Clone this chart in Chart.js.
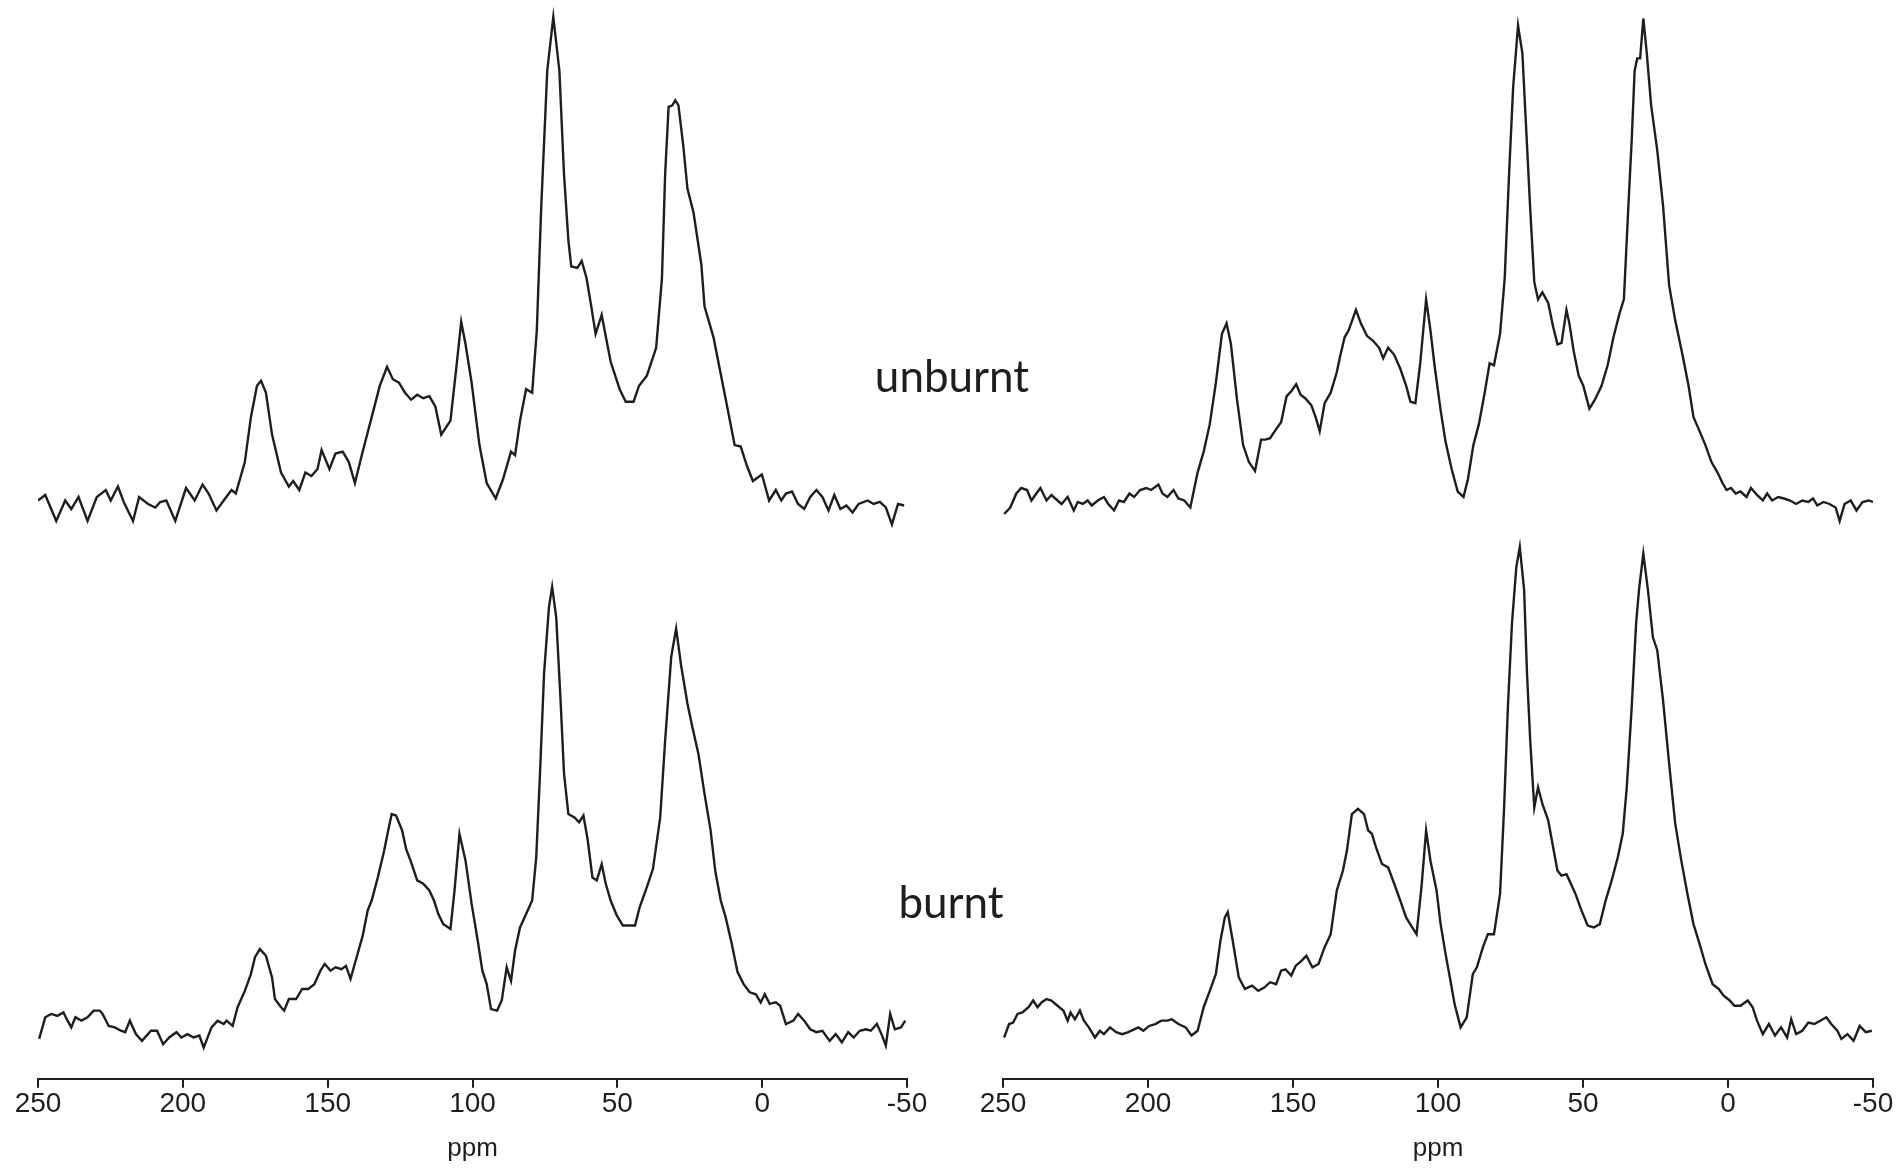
<!DOCTYPE html>
<html>
<head>
<meta charset="utf-8">
<title>13C NMR spectra - unburnt and burnt</title>
<script src="https://cdn.jsdelivr.net/npm/chart.js@4.4.1/dist/chart.umd.min.js"></script>
<style>
  html, body { margin: 0; padding: 0; background: #fff; }
  #wrap { position: relative; width: 1898px; height: 1169px; overflow: hidden; }
  canvas { position: absolute; top: 0; }
  #left { left: 0; }
  #right { left: 950px; }
  .tag {
    position: absolute;
    font-family: Lato, 'Open Sans', sans-serif;
    font-size: 44px;
    line-height: 1;
    color: #1e1e1e;
    transform: translateX(-50%);
    white-space: nowrap;
  }
</style>
</head>
<body>
<div id="wrap">
  <canvas id="left" width="950" height="1169"></canvas>
  <canvas id="right" width="948" height="1169"></canvas>
  <div class="tag" style="left:952px; top:353px;">unburnt</div>
  <div class="tag" style="left:951px; top:879px;">burnt</div>
</div>
<script>
// tick labels on the ppm axis
const ppmTicks = [250, 200, 150, 100, 50, 0, -50];

// left panel, unburnt (chemical shift in ppm, relative intensity)
const leftUnburntPpm = [250,247.5,243.7,240.6,238.5,236,232.9,229.7,226.6,224.9,
  222.4,220.4,217.2,215.1,212,209.5,207.8,205.7,202.6,198.9,
  195.9,193.2,191.1,188.4,185.9,183.2,181.7,178.6,176.5,174.4,
  173,171.3,169.2,166.1,163.4,161.9,159.8,157.7,155.6,153.5,
  152.1,149.4,147.3,144.8,142.7,140.6,137.9,134.8,132,129.5,
  127.5,125.4,123.3,121.2,119.1,117,114.9,112.8,110.8,107.6,
  105.5,103.9,102.4,100.3,97.6,95.1,92,89.5,86.7,85.3,
  83.6,81.5,79.4,77.8,76.3,74.2,72.1,70,68.4,66.9,
  65.9,63.8,62.3,60.6,59,57.5,55.4,54.4,52.3,49.2,
  47.1,44.4,42.5,39.8,36.6,34.6,33.5,32.3,31,30,
  28.9,27.2,25.8,23.7,21,19.9,16.8,13.7,11.6,9.5,
  7.4,5.3,3.2,0.1,-2.4,-4.7,-6.6,-8.2,-10.3,-12.4,
  -14.5,-16.6,-18.7,-20.8,-22.9,-24.9,-27,-29.1,-31.2,-33.3,
  -36.4,-38.5,-40.6,-42.7,-44.8,-46.9,-49];
const leftUnburntInt = [3.3,4.4,-0.8,3.3,1.6,4.0,-0.8,4.0,5.4,3.3,
  6.1,3.0,-0.8,4.0,2.6,1.9,3.0,3.3,-0.8,5.8,
  3.3,6.5,4.7,1.3,3.3,5.4,4.7,11.0,20.0,26.3,
  27.3,24.9,16.5,8.9,6.1,7.2,5.4,8.9,8.2,9.6,
  13.4,9.6,12.7,13.1,11.0,6.8,13.1,20.0,26.3,30.1,
  27.6,26.9,24.9,23.5,24.5,23.8,24.2,22.1,16.5,19.3,
  30.4,39.1,34.6,26.9,14.4,6.8,3.7,7.5,13.1,12.4,
  19.3,25.6,24.9,37.4,61.7,89.4,100.2,89.4,68.6,55.4,
  50.2,49.9,51.3,47.8,42.2,36.7,40.5,37.4,31.1,25.6,
  23.1,23.1,26.3,28.3,33.9,47.8,68.6,82.2,82.5,83.5,
  82.5,74.2,65.8,61.0,50.6,42.2,36.0,26.9,20.7,14.4,
  14.1,10.3,7.2,8.5,3.3,5.4,3.3,4.7,5.1,2.6,
  1.6,4.0,5.4,4.0,1.3,4.4,1.6,2.3,0.9,2.6,
  3.3,2.6,3.0,1.9,-1.5,2.6,2.3];

// left panel, burnt
const leftBurntPpm = [249.6,247.5,245.4,243.3,241.2,239.8,238.5,237.1,235,232.9,
  230.8,228.7,227.7,225.6,223.5,221.4,219.9,218.3,216.2,214.1,
  211,208.9,206.8,204.7,202.2,200.5,198.4,196.3,194.3,192.8,
  190.1,188,185.9,184.9,182.8,181.1,178.6,176.5,175.1,173.4,
  171.3,169.2,168.2,166.1,165,163.4,160.9,158.8,156.7,154.6,
  152.5,151,149,147.3,145.2,143.7,142.1,140,137.9,136.2,
  134.8,132.7,130.6,129.1,127.9,126.4,124.3,122.9,121.2,119.1,
  117,114.9,113.3,111.8,110.1,107.6,106.2,104.5,102.4,100.3,
  98.2,96.6,95.1,93.6,91.5,89.9,88.2,86.7,85.3,83.6,
  81.5,79.4,78,76.7,75.3,73.6,72.5,71.1,69.6,68.4,
  66.9,64.8,63.2,61.7,60.2,58.6,57.1,55.4,54,52.3,
  50.2,48.1,46,43.9,42.3,39.8,37.7,35.2,33.5,31.4,
  29.7,27.9,25.8,24.1,22,19.9,17.8,16.2,14.3,12.6,
  10.5,8.5,6.4,4.3,2.2,0.5,-0.9,-2.6,-4.7,-6.2,
  -8.2,-10.8,-12.4,-14.5,-16.6,-18.7,-20.8,-23.3,-25.4,-27.5,
  -29.7,-31.6,-33.7,-35.8,-37.5,-39.6,-41.2,-42.7,-44.2,-45.8,
  -47.9,-49.4];
const leftBurntInt = [-1.7,2.8,3.5,3.1,3.8,2.1,0.7,2.8,2.1,2.8,
  4.2,4.2,3.5,1.0,0.7,0,-0.3,2.1,-0.7,-2.1,
  0,0,-2.8,-1.4,-0.3,-1.4,-0.7,-1.4,-1.0,-3.5,
  0.7,2.1,1.4,2.1,1.0,4.9,8.3,11.8,15.3,17.0,
  15.6,11.1,6.6,4.9,4.2,6.6,6.6,8.7,8.7,9.7,
  12.5,13.9,12.5,13.2,12.8,13.5,10.8,15.3,19.8,25.0,
  27.1,31.9,37.2,41.7,45.1,44.8,41.7,37.8,35.1,31.3,
  30.6,29.2,27.1,24.3,22.2,21.2,29.2,41.0,35.4,26.4,
  18.8,12.5,9.7,4.5,4.2,6.3,13.2,10.4,16.7,21.5,
  24.3,27.1,36.1,53.5,74.3,88.2,92.4,86.1,68.8,53.5,
  45.1,44.4,43.4,44.8,39.6,31.9,31.3,34.7,30.6,27.1,
  24.0,21.9,21.9,21.9,25.7,29.9,33.7,44.4,60.4,77.8,
  83.7,75.7,68.1,63.2,57.6,49.3,41.7,33.3,27.1,23.6,
  18.1,12.2,9.7,8.0,7.6,5.9,7.6,5.6,5.9,5.2,
  1.4,2.1,3.5,2.1,0.3,-0.3,0,-2.1,-0.7,-2.4,
  -0.3,-1.4,0,0.3,0,1.4,-0.7,-3.1,3.5,0.3,
  0.7,2.1];

// right panel, unburnt
const rightUnburntPpm = [249.6,247.5,245.4,243.7,241.7,240.2,238.5,237.1,235,233.3,
  231.2,229.8,227.7,225.6,224.2,222.5,220.8,219.4,217.3,215.2,
  213.7,211.7,210,208.3,206.4,204.8,202.7,200.6,198.9,196.4,
  195,193.3,191.2,189.5,187.5,185.4,182.9,180.8,178.7,176.6,
  174.5,172.9,171.4,169.3,167.2,165.2,163.1,161,159.5,157.9,
  155.8,154.1,152.2,150.6,148.9,147.4,145.8,143.7,142.2,140.8,
  139.1,137,134.9,133.9,132.2,130.8,128.3,126.6,124.5,122.4,
  120.3,118.9,117.2,115.1,113,111,109.5,107.8,106.2,104.1,
  102.6,101.2,99.1,97.4,95.3,93.2,91.2,89.7,87.8,85.9,
  83.9,82.2,80.7,78.6,77,75.5,74.1,72.4,70.9,69.7,
  68.2,66.8,65.5,64,62,60.3,58.8,57.4,55.7,54.7,
  53.2,51.5,49.9,47.8,45.9,43.6,41.5,39.5,37.4,35.9,
  34.4,33.2,32.2,31.3,30.3,29.2,28,26.5,24.4,22.4,
  20.3,18.2,15.7,13.6,11.9,9.8,7.8,5.7,3.6,1.9,
  0.5,-1,-2.7,-4.3,-6.4,-7.9,-10,-12,-13.5,-15.2,
  -17.3,-19.3,-21.4,-23.5,-25.6,-27.7,-29.3,-30.8,-32.9,-35,
  -37.1,-38.5,-40.2,-42.3,-44.3,-46.4,-48.5,-50];
const rightUnburntInt = [0.6,1.9,4.7,5.8,5.4,3.3,4.7,5.8,3.3,4.4,
  3.3,2.6,4.0,1.3,3.0,2.6,3.3,2.3,3.3,4.0,
  2.6,1.3,3.3,3.0,4.7,4.0,5.4,5.8,5.4,6.5,
  4.7,4.0,5.4,3.7,3.3,1.9,8.9,13.1,18.6,26.9,
  36.7,38.8,34.6,23.5,14.4,11.0,9.2,15.5,15.5,15.8,
  17.6,19.0,24.2,25.2,26.6,24.5,23.8,22.4,20.0,17.2,
  22.8,24.9,29.0,31.8,36.0,37.4,41.5,38.8,36.3,35.3,
  33.9,31.8,33.9,32.5,29.7,26.3,23.1,22.8,30.4,43.6,
  37.4,30.4,21.4,15.1,9.6,5.1,4.0,7.5,14.4,18.6,
  24.9,30.8,30.4,36.7,47.8,68.6,86.0,98.5,92.9,79.0,
  61.7,47.1,43.6,45.0,42.9,38.1,34.6,34.9,41.5,38.8,
  33.2,28.3,26.3,21.7,23.5,26.3,30.4,36.0,40.8,43.6,
  61.7,75.6,89.4,91.9,91.9,99.9,92.9,82.5,73.5,62.4,
  46.4,39.4,32.5,26.3,20.0,17.2,14.4,11.0,8.9,6.8,
  5.4,5.8,4.7,5.1,4.0,5.8,4.4,3.3,4.7,3.3,
  4.0,3.7,3.3,2.6,3.3,3.0,3.7,2.3,3.0,2.6,
  1.9,-0.8,2.6,3.3,1.3,3.0,3.3,3.0];

// right panel, burnt
const rightBurntPpm = [249.6,247.9,246.5,245,243.3,241.2,239.6,238.1,236.7,235,
  233.3,231.2,229.2,227.7,226.7,225.2,223.5,222.1,220.4,218.3,
  216.6,215.2,213.1,211,208.9,206.8,204.8,203.3,201.6,199.6,
  197.5,195.4,193.3,191.8,189.5,187,185,182.9,180.8,178.7,
  176.6,175,173.5,172.5,170.8,168.7,166.6,164.1,162,159.9,
  157.9,155.8,154.1,152.6,150.6,149.1,147,145.4,143.3,141.2,
  139.1,137,134.9,132.8,131.4,129.7,127.6,125.5,124.1,122.8,
  121.4,119.3,117.2,115.1,113,111,108.9,107.4,105.7,104.1,
  102.6,100.5,99.1,97.4,95.7,94.3,92.2,90.1,88,86.6,
  84.5,82.8,80.7,78.6,77.2,75.9,74.5,73,71.8,70.3,
  69.3,68.2,66.8,65.5,64,62,60.3,58.8,57.4,55.7,
  54.7,52.6,50.5,48.4,46.3,44.2,42.2,40.1,38,36.3,
  34.9,33.2,31.7,30.7,29.2,27.6,25.9,24.4,22.4,20.3,
  18.2,16.1,14,11.9,9.8,7.8,5.3,3.2,1.5,-0.6,
  -2.2,-4.3,-6.8,-8.5,-10,-12,-14.1,-16.2,-18.3,-20.4,
  -21.8,-23.5,-25.6,-27.7,-29.8,-31.8,-33.9,-35.6,-37.7,-39.1,
  -41.2,-43.3,-45.4,-47.5,-49.6];
const rightBurntInt = [-1.4,1.4,1.7,3.5,3.8,4.9,6.3,4.9,5.9,6.6,
  6.3,5.2,4.2,2.1,3.8,2.4,4.2,2.1,0.7,-1.4,
  0,-0.7,0.7,-0.3,-0.7,-0.3,0.3,0.7,0,1.0,
  1.4,2.1,2.1,2.4,1.4,0.7,-1.0,0,4.9,8.3,
  11.8,18.8,23.6,24.7,18.8,11.1,8.7,9.4,8.3,9.0,
  10.1,9.7,12.5,12.8,11.5,13.5,14.6,15.6,13.2,13.9,
  17.4,20.1,29.2,33.3,37.5,45.1,46.2,45.1,41.7,41.0,
  38.2,34.7,34.0,30.6,27.1,23.6,21.5,20.1,29.9,41.7,
  35.4,29.2,22.2,16.0,10.4,5.6,0.7,2.8,11.8,13.2,
  17.4,20.1,20.1,28.5,46.5,67.4,84.7,96.5,100.7,91.7,
  74.3,60.4,46.5,50.7,47.2,43.8,38.2,33.3,32.3,32.6,
  31.3,28.5,25.0,21.9,21.5,22.2,27.1,31.3,36.1,41.0,
  50.7,67.4,84.7,91.7,99.3,91.7,81.9,79.2,68.8,55.6,
  43.1,35.4,28.5,22.2,18.1,13.9,9.7,8.7,7.3,6.3,
  5.2,5.2,6.3,4.9,2.1,-0.7,1.4,-1.0,0.7,-1.4,
  2.4,-0.7,0,1.7,1.4,2.1,2.8,1.4,0,-1.7,
  -0.7,-2.1,1.0,-0.3,0];

const AXIS_FONT = "'Liberation Sans', Arial, Helvetica, sans-serif";
const INK = '#1e1e1e';

function toPoints(ppm, intensity) {
    return ppm.map((p, i) => ({ x: p, y: intensity[i] }));
}

// one panel: unburnt trace on top, burnt trace below, shared ppm axis
function spectrumChart(id, unburnt, burnt, padLeft, padRight) {
    return new Chart(document.getElementById(id), {
        type: 'line',
        data: {
            datasets: [
                { label: 'unburnt', data: unburnt, yAxisID: 'yUnburnt' },
                { label: 'burnt', data: burnt, yAxisID: 'yBurnt' },
            ],
        },
        options: {
            responsive: false,
            animation: false,
            layout: { padding: { left: padLeft, right: padRight, top: 5, bottom: 5 } },
            elements: {
                line: { borderColor: INK, borderWidth: 2.4, tension: 0, fill: false },
                point: { radius: 0 },
            },
            plugins: {
                legend: { display: false },
                tooltip: { enabled: false },
            },
            scales: {
                x: {
                    type: 'linear',
                    reverse: true,
                    min: -50,
                    max: 250,
                    afterBuildTicks: scale => {
                        scale.ticks = ppmTicks.map(v => ({ value: v }));
                    },
                    border: { display: true, color: INK, width: 2 },
                    grid: {
                        display: true,
                        drawOnChartArea: false,
                        drawTicks: true,
                        tickLength: 9,
                        color: INK,
                        lineWidth: 2,
                    },
                    ticks: {
                        color: INK,
                        padding: 2,
                        maxRotation: 0,
                        autoSkip: false,
                        font: { family: AXIS_FONT, size: 28, lineHeight: 1 },
                    },
                    title: {
                        display: true,
                        text: 'ppm',
                        color: INK,
                        font: { family: AXIS_FONT, size: 26, lineHeight: 1.2 },
                        padding: { top: 13, bottom: 0 },
                    },
                },
                yUnburnt: { type: 'linear', display: false, min: -112.6, max: 102.6 },
                yBurnt: { type: 'linear', display: false, min: -10, max: 213.5 },
            },
        },
    });
}

spectrumChart('left',
    toPoints(leftUnburntPpm, leftUnburntInt),
    toPoints(leftBurntPpm, leftBurntInt),
    38, 43);

spectrumChart('right',
    toPoints(rightUnburntPpm, rightUnburntInt),
    toPoints(rightBurntPpm, rightBurntInt),
    53, 25);
</script>
</body>
</html>
